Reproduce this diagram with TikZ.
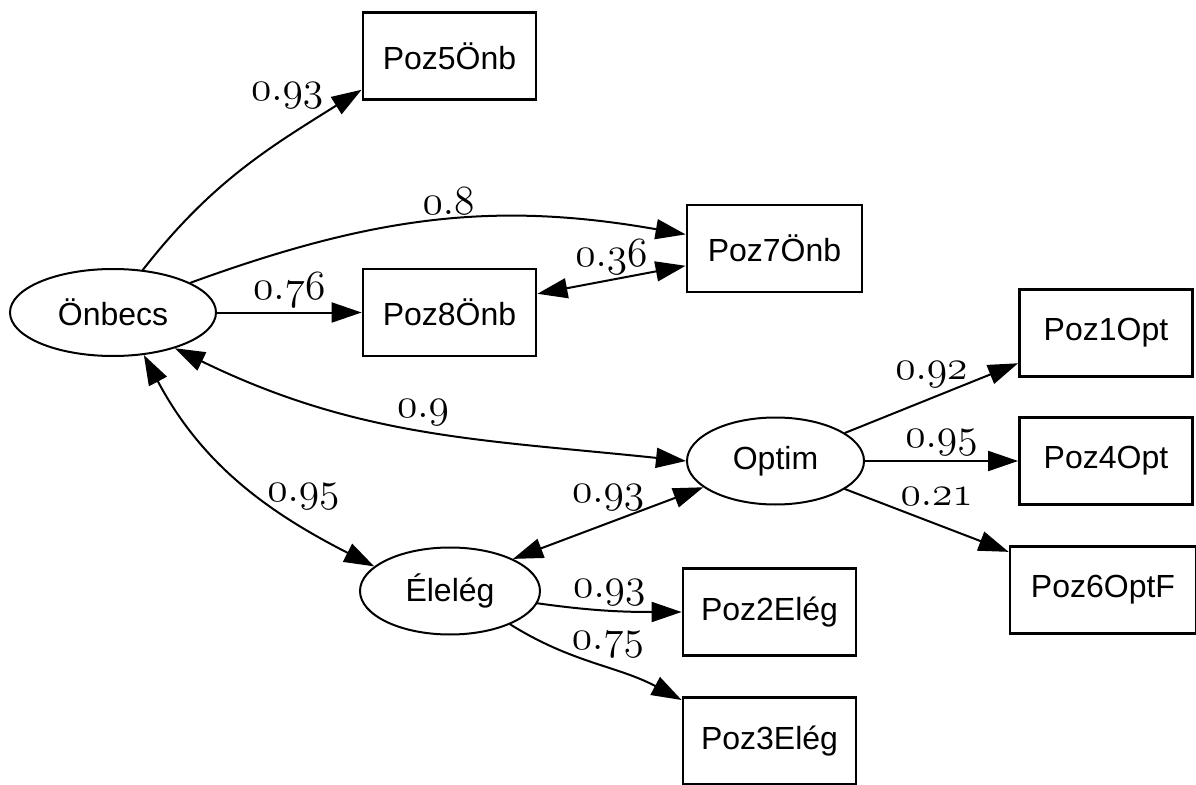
\documentclass[tikz,border=0pt]{standalone}
\usepackage{fontspec}
\setsansfont{Liberation Sans}
\usetikzlibrary{arrows.meta,shapes.geometric}
% old-style coefficient, e.g. \coef{0}{93}
\newcommand\coef[2]{{\fontsize{20}{22}\usefont{OML}{lmm}{m}{it}#1\char58\relax#2}}
\begin{document}
\begin{tikzpicture}
    [x=0.5pt,y=0.5pt,line cap=round,
    % Styles
    latent/.style={ellipse,draw,line width=1pt,minimum height=43.5pt,inner sep=0pt,
      font=\sffamily\fontsize{16}{18}\selectfont},
    indicator/.style={rectangle,draw,line width=1.4pt,minimum width=86.5pt,
      minimum height=43.5pt,inner sep=0pt,font=\sffamily\fontsize{16}{18}\selectfont},
    load/.style={line width=1pt,-{Triangle[length=15pt,width=10pt]}},
    cov/.style={line width=1pt,{Triangle[length=15pt,width=10pt]}-{Triangle[length=15pt,width=10pt]}},
    coeflabel/.style={inner sep=2pt}]
    \useasboundingbox (0,0) rectangle (1196,784);
    % Factors
    \node[latent,minimum width=103pt] (onbecs) at (113,471.5) {Önbecs};
    \node[latent,minimum width=88.5pt] (optim) at (775.5,323) {Optim};
    \node[latent,minimum width=90pt] (eleleg) at (450,193) {Élelég};
    % Indicators
    \node[indicator] (poz5) at (449.5,728) {Poz5Önb};
    \node[indicator] (poz8) at (449.5,471.5) {Poz8Önb};
    \node[indicator,minimum width=87.5pt] (poz7) at (774.5,535.5) {Poz7Önb};
    \node[indicator] (poz1) at (1106,451) {Poz1Opt};
    \node[indicator] (poz4) at (1106,323) {Poz4Opt};
    \node[indicator,minimum width=93pt] (poz6) at (1103,194) {Poz6OptF};
    \node[indicator] (poz2) at (769.5,172) {Poz2Elég};
    \node[indicator] (poz3) at (769.5,43) {Poz3Elég};
    % Loadings
    \draw[load] (onbecs.55) to[out=52,in=212]
      node[coeflabel,pos=0.86,above left,xshift=2pt] {\coef{0}{93}} (poz5.201);
    \draw[load] (onbecs.21) to[out=20,in=170]
      node[coeflabel,pos=0.53,above] {\coef{0}{8}} (poz7.171);
    \draw[load] (onbecs) -- node[coeflabel,above] {\coef{0}{76}} (poz8);
    \draw[load] (optim.22) -- node[coeflabel,above=3pt] {\coef{0}{92}} (poz1.199);
    \draw[load] (optim) -- node[coeflabel,above] {\coef{0}{95}} (poz4);
    \draw[load] (optim.338) -- node[coeflabel,pos=0.56,above=7pt] {\coef{0}{21}} (poz6.158);
    \draw[load] (eleleg.352) to[out=-8,in=180]
      node[coeflabel,above] {\coef{0}{93}} (poz2.west);
    \draw[load] (eleleg.331) to[out=-32,in=152]
      node[coeflabel,pos=0.58,above=3pt] {\coef{0}{75}} (poz3.155);
    % Covariances
    \draw[cov] (poz8.12) -- node[coeflabel,above] {\coef{0}{36}} (poz7.191);
    \draw[cov] (onbecs.330) to[out=-26,in=174]
      node[coeflabel,above] {\coef{0}{9}} (optim.west);
    \draw[cov] (onbecs.306) to[out=-62,in=153]
      node[coeflabel,pos=0.64,above right,xshift=-5pt,yshift=-4pt] {\coef{0}{95}} (eleleg.162);
    \draw[cov] (eleleg.27) -- node[coeflabel,above=4pt] {\coef{0}{93}} (optim.200);
  \end{tikzpicture}
\end{document}
